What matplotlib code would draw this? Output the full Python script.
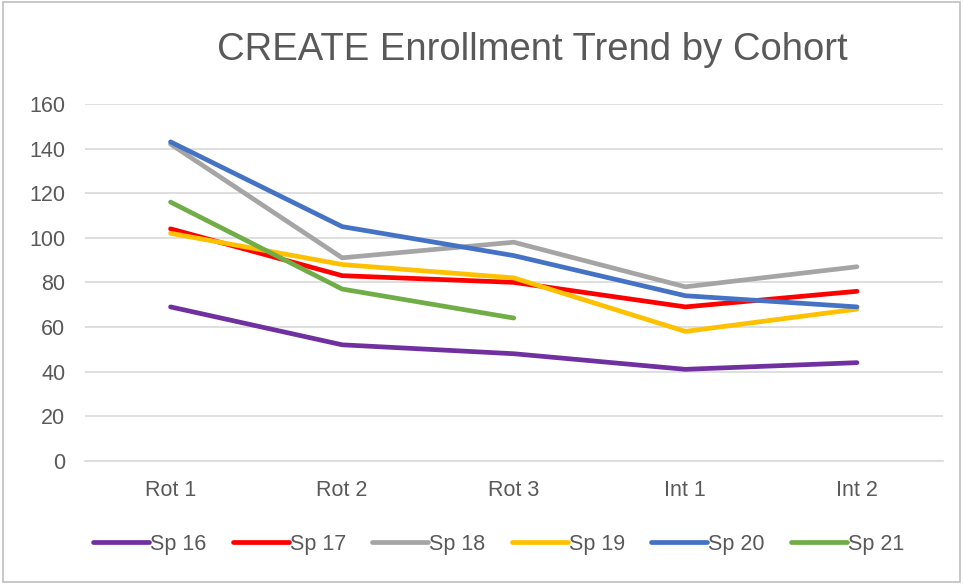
import matplotlib
matplotlib.use("Agg")
import matplotlib.pyplot as plt
from matplotlib.patches import Rectangle

categories = ["Rot 1", "Rot 2", "Rot 3", "Int 1", "Int 2"]
sp16 = [69, 52, 48, 41, 44]
sp17 = [104, 83, 80, 69, 76]
sp18 = [142, 91, 98, 78, 87]
sp19 = [102, 88, 82, 58, 68]
sp20 = [143, 105, 92, 74, 69]
sp21 = [116, 77, 64]

series = [
    ("Sp 16", sp16, "#7030A0"),
    ("Sp 17", sp17, "#FF0000"),
    ("Sp 18", sp18, "#A5A5A5"),
    ("Sp 19", sp19, "#FFC000"),
    ("Sp 20", sp20, "#4472C4"),
    ("Sp 21", sp21, "#70AD47"),
]

plt.rcParams['font.family'] = ['Liberation Sans', 'DejaVu Sans']
txt = "#595959"

fig = plt.figure(figsize=(9.63, 5.84), dpi=100)
ax = fig.add_axes([0.088, 0.211, 0.891, 0.611])

for name, vals, col in series:
    ax.plot(range(len(vals)), vals, color=col, lw=3.4, label=name,
            solid_capstyle='round', solid_joinstyle='round')

ax.set_xlim(-0.5, 4.5)
ax.set_ylim(0, 160)
ax.set_yticks(range(0, 161, 20))
ax.set_xticks(range(len(categories)))
ax.set_xticklabels(categories)
ax.grid(axis='y', color='#D9D9D9', lw=1.2)
ax.set_axisbelow(True)
for s in ['top', 'right', 'left']:
    ax.spines[s].set_visible(False)
ax.spines['bottom'].set_color('#D9D9D9')
ax.spines['bottom'].set_linewidth(1.2)
ax.tick_params(axis='both', length=0, labelsize=15.5, colors=txt)
ax.tick_params(axis='x', pad=14)
ax.tick_params(axis='y', pad=14)

fig.text(0.553, 0.915, "CREATE Enrollment Trend by Cohort", ha='center', va='center',
         fontsize=27.5, color=txt)

leg = fig.legend(loc='center', bbox_to_anchor=(0.518, 0.068), ncol=6, frameon=False,
                 fontsize=15.5, handlelength=2.6, handletextpad=0.05, columnspacing=1.22)
for t in leg.get_texts():
    t.set_color(txt)

fig.patches.append(Rectangle((0.003, 0.004), 0.994, 0.992, transform=fig.transFigure,
                             fill=False, edgecolor='#BFBFBF', lw=1.2))

fig.savefig("out.png", dpi=100)
